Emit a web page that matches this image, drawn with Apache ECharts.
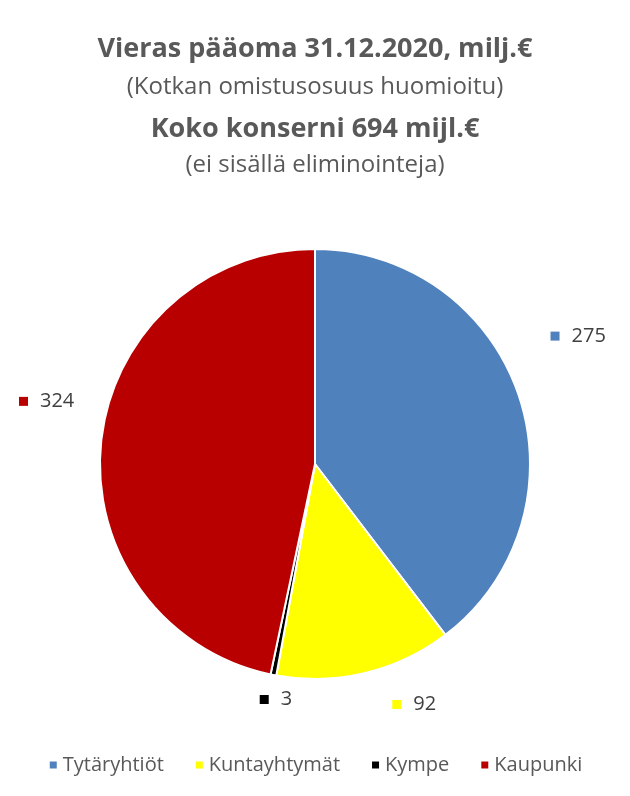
<!DOCTYPE html>
<html>
<head>
<meta charset="utf-8">
<script src="https://cdn.jsdelivr.net/npm/echarts@6/dist/echarts.min.js"></script>
<style>html,body{margin:0;padding:0;background:#fff}#c{width:630px;height:796px}</style>
</head>
<body>
<div id="c"></div>
<script>
const categories = ['Tytäryhtiöt', 'Kuntayhtymät', 'Kympe', 'Kaupunki'];
const values = [275, 92, 3, 324];
const colors = ['#4F81BD', '#FFFF00', '#000000', '#B90000'];
const titleLines = ['Vieras pääoma 31.12.2020, milj.€', '(Kotkan omistusosuus huomioitu)', 'Koko konserni 694 mijl.€', '(ei sisällä eliminointeja)'];
// small label nudges (Excel-like best-fit placement)
const labelNudgeY = [-52, 10, 3, -38];
const labelNudgeX = [6, 17, 28, 0];

const FONT = '"Open Sans", "Noto Sans", sans-serif';
const chart = echarts.init(document.getElementById('c'));
const rich = { v: { fontSize: 20, color: '#404040', fontFamily: FONT, padding: [0, 0, 0, 12] } };
colors.forEach((c, i) => { rich['m' + i] = { width: 9, height: 9, backgroundColor: c }; });

chart.setOption({
  animation: false,
  title: [
    { text: titleLines[0], left: 'center', top: 31, textStyle: { fontSize: 27, fontWeight: 'bold', color: '#595959', fontFamily: FONT } },
    { text: titleLines[1], left: 'center', top: 70, textStyle: { fontSize: 24, fontWeight: 'normal', color: '#595959', fontFamily: FONT } },
    { text: titleLines[2], left: 'center', top: 111, textStyle: { fontSize: 27, fontWeight: 'bold', color: '#595959', fontFamily: FONT } },
    { text: titleLines[3], left: 'center', top: 148, textStyle: { fontSize: 24, fontWeight: 'normal', color: '#595959', fontFamily: FONT } }
  ],
  legend: {
    bottom: 16, left: 'center', icon: 'rect', itemWidth: 9, itemHeight: 9, itemGap: 30,
    textStyle: { fontSize: 20, color: '#595959', fontFamily: FONT },
    data: categories
  },
  color: colors,
  series: [{
    type: 'pie',
    center: ['50%', 464],
    radius: 215,
    startAngle: 90,
    clockwise: true,
    itemStyle: { borderColor: '#fff', borderWidth: 2 },
    label: {
      show: true, position: 'outside',
      formatter: p => '{m' + p.dataIndex + '|}{v|' + p.value + '}',
      rich: rich
    },
    labelLine: { show: false, length: 22, length2: 0 },
    labelLayout: p => ({ dx: labelNudgeX[p.dataIndex], dy: labelNudgeY[p.dataIndex] }),
    data: categories.map((n, i) => ({ name: n, value: values[i] }))
  }]
});
</script>
</body>
</html>
